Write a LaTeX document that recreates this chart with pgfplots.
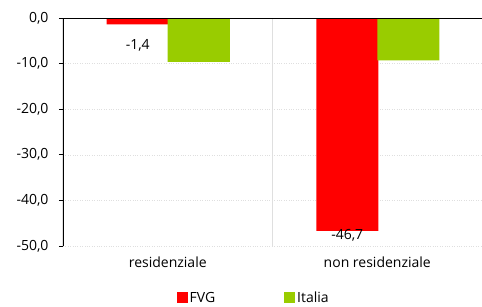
\documentclass[border=0pt]{standalone}
\usepackage{pgfplots}
\pgfplotsset{compat=1.18}
\usepackage{fontspec}
\setmainfont{Open Sans}
\definecolor{fvg}{HTML}{FF0000}
\definecolor{ita}{HTML}{99CC00}
\begin{document}
\begin{tikzpicture}
\useasboundingbox (-63pt,-60pt) rectangle (419pt,246pt);
\begin{axis}[
  scale only axis, width=419pt, height=228pt,
  at={(0,0)}, anchor=south west,
  xmin=-0.5, xmax=1.5, ymin=-50, ymax=0,
  axis line style={draw=none},
  xtick={0,1}, xticklabels={residenziale,non residenziale},
  xtick style={draw=none},
  xticklabel style={yshift=-3pt},
  ytick={-50,-40,-30,-20,-10,0},
  yticklabels={{-50,0},{-40,0},{-30,0},{-20,0},{-10,0},{0,0}},
  yticklabel style={xshift=-7pt},
  ytick pos=left, tick align=outside, major tick length=4pt,
  ytick style={black, line width=0.8pt},
  ymajorgrids, grid style={dotted, gray!25, line width=0.6pt},
  font=\fontsize{14}{16}\selectfont,
  ybar, bar width=62pt,
  legend columns=2,
  legend style={draw=none, at={(0.455,-0.228)}, anchor=center,
    /tikz/every even column/.append style={column sep=67pt},
    font=\fontsize{14}{16}\selectfont},
  legend image code/.code={\fill[#1] (0pt,-5.5pt) rectangle (11pt,6pt);},
  /pgf/number format/assume math mode=true,
  /pgf/number format/.cd, use comma, fixed, fixed zerofill, precision=1,
]
\addplot[ybar, fill=fvg, draw=none, bar shift=-30pt,
  nodes near coords,
  visualization depends on={value \thisrow{off} \as \off},
  every node near coord/.append style={anchor=center, yshift=\off, font=\fontsize{14}{16}\selectfont, text=black}]
  table[x=x, y=y] {
x y off
0 -1.4 -21pt
1 -46.7 -4pt
};
\addplot[ybar, fill=ita, draw=none, bar shift=31pt] coordinates {(0,-9.6) (1,-9.3)};
\legend{FVG,Italia}
\draw[gray!25, line width=0.6pt] (axis cs:0.5,0) -- (axis cs:0.5,-50);
\draw[black, line width=0.8pt] (axis cs:0.5,0) -- ++(0,-4pt);
\draw[black, line width=1.8pt] (axis cs:-0.5,-50) -- (axis cs:-0.5,0) -- (axis cs:1.5,0);
\end{axis}
\end{tikzpicture}
\end{document}
